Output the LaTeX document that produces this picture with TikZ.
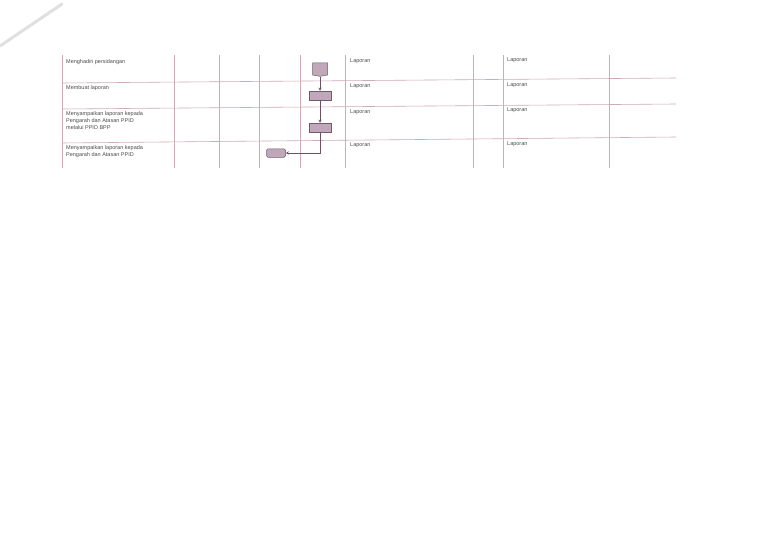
\documentclass[tikz,border=0pt]{standalone}
\usepackage{fontspec}
\setmainfont{Liberation Sans}
\usetikzlibrary{arrows.meta,shapes.symbols}
\definecolor{gridline}{RGB}{205,172,180}
\definecolor{boxfill}{RGB}{192,168,186}
\definecolor{boxline}{RGB}{112,92,108}
\definecolor{flowline}{RGB}{104,84,100}
\tikzset{
	grid/.style={draw=gridline,line width=0.6pt},
	stepname/.style={anchor=north west,align=left,inner sep=0pt,font=\fontsize{5.5}{7}\selectfont,text=black!70},
	laporan/.style={anchor=north west,inner sep=0pt,font=\fontsize{5.5}{7}\selectfont,text=black!70},
	process/.style={draw=boxline,fill=boxfill,line width=0.5pt,minimum width=22pt,minimum height=9pt,inner sep=0pt},
	terminal/.style={process,rounded corners=1.5pt,minimum width=19pt,minimum height=8.5pt},
	offpage/.style={draw=boxline,fill=boxfill,line width=0.5pt,signal,signal to=south,signal pointer angle=160,minimum width=15pt,minimum height=12pt,inner sep=0pt},
	flow/.style={draw=flowline,line width=0.8pt,-{Stealth[length=3pt,width=3pt]}}
}
\begin{document}
\begin{tikzpicture}[x=1pt,y=-1pt]
	\useasboundingbox[fill=white] (0,0) rectangle (768,543);
	% scan edge at the corner
	\path[draw=black!12,line width=3pt,line cap=round] (0,46) -- (62,4);

	% columns
	\path[grid] (62,55) -- (62,168);
	\path[grid] (174,55) -- (174,168);
	\path[grid] (219,55) -- (219,168);
	\path[grid] (259,55) -- (259,168);
	\path[grid] (300,55) -- (300,168);
	\path[grid] (345,55) -- (345,168);
	\path[grid] (473,55) -- (473,168);
	\path[grid] (503,55) -- (503,168);
	\path[grid] (609,55) -- (609,168);

	% rows
	\path[grid] (62,83) -- (676,78);
	\path[grid] (62,109) -- (676,104);
	\path[grid] (62,143) -- (676,137);

	% activities
	\node[stepname] (t1) at (66,59) {Menghadiri persidangan};
	\node[stepname] (t2) at (66,85) {Membuat laporan};
	\node[stepname] (t3) at (66,111) {Menyampaikan laporan kepada\\Pengarah dan Atasan PPID\\melalui PPID BPP};
	\node[stepname] (t4) at (66,145) {Menyampaikan laporan kepada\\Pengarah dan Atasan PPID};

	% output columns
	\node[laporan] (l1a) at (350,59) {Laporan};
	\node[laporan] (l2a) at (350,84) {Laporan};
	\node[laporan] (l3a) at (350,110) {Laporan};
	\node[laporan] (l4a) at (350,143) {Laporan};
	\node[laporan] (l1b) at (507,58) {Laporan};
	\node[laporan] (l2b) at (507,83) {Laporan};
	\node[laporan] (l3b) at (507,108) {Laporan};
	\node[laporan] (l4b) at (507,142) {Laporan};

	% flow
	\node[offpage] (s1) at (320,69) {};
	\node[process] (s2) at (320,95.5) {};
	\node[process] (s3) at (320,127.5) {};
	\node[terminal] (s4) at (276,153) {};

	\path[flow] (s1) -- (s2);
	\path[flow] (s2) -- (s3);
	\path[flow] (s3.south) |- (s4.east);
\end{tikzpicture}
\end{document}
